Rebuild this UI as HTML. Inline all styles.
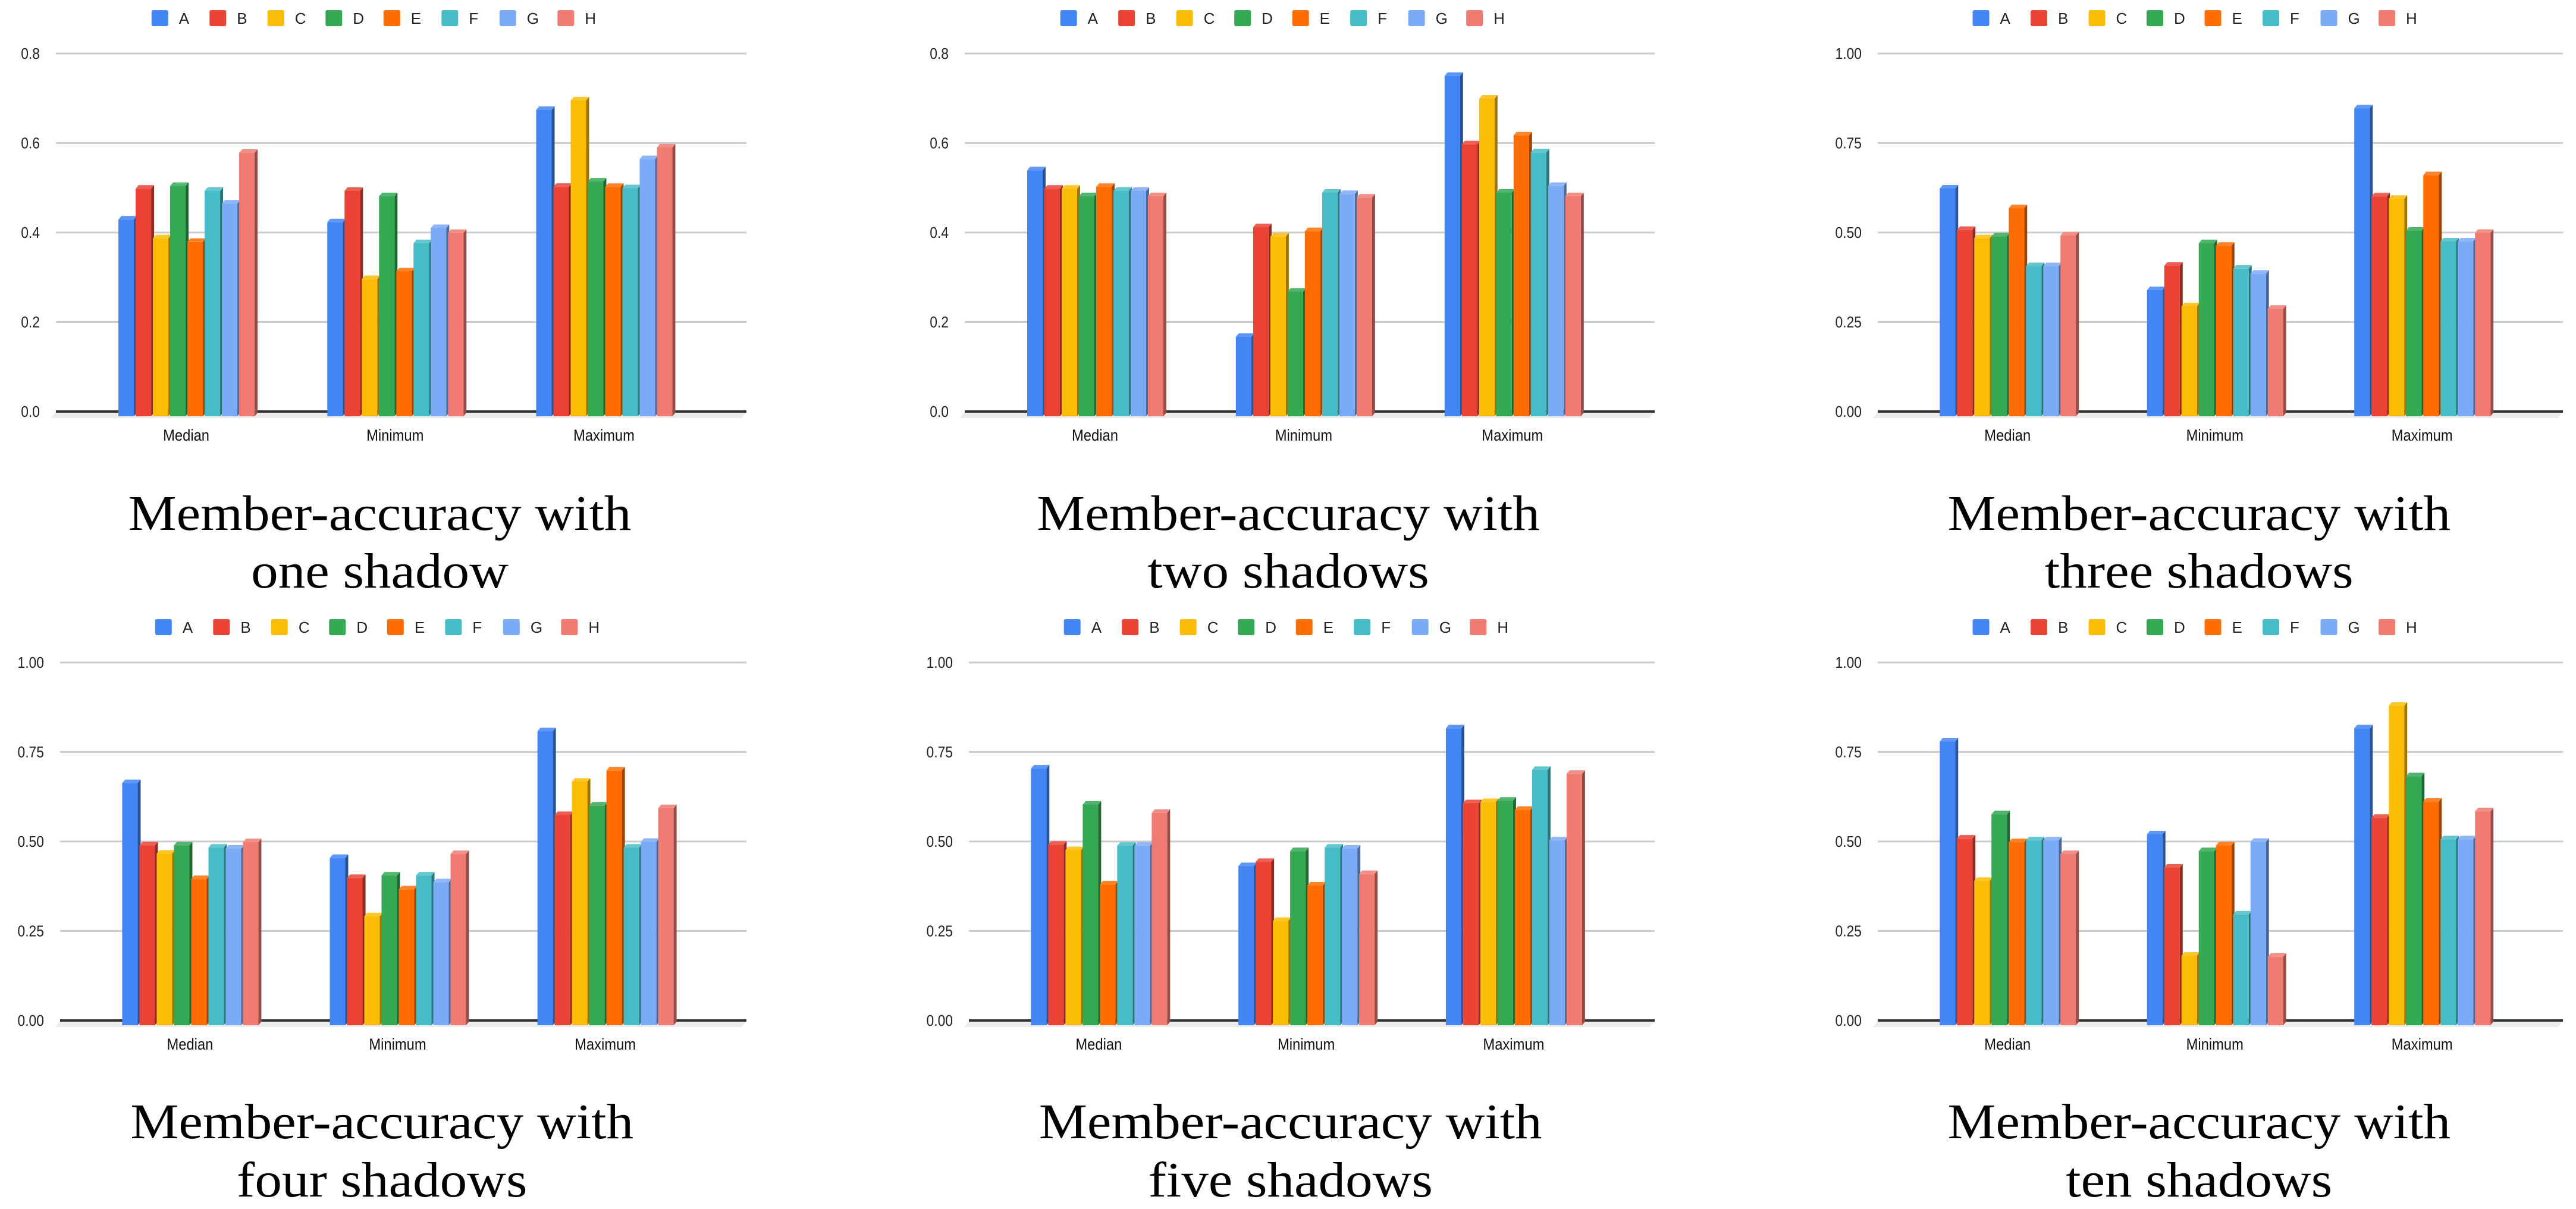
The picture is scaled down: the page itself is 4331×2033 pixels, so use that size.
<!DOCTYPE html>
<html><head><meta charset="utf-8">
<style>
html,body{margin:0;padding:0;background:#fff;}
svg{display:block;}
</style></head>
<body>
<svg id="root" xmlns="http://www.w3.org/2000/svg" width="4331" height="2033" viewBox="0 0 4331 2033"></svg>
<script>
const categories = ["Median","Minimum","Maximum"];
const seriesNames = ["A","B","C","D","E","F","G","H"];
const seriesColors = ["#4285F4","#EA4335","#FBBC04","#34A853","#FF6D01","#46BDC6","#7BAAF7","#F07B72"];
const tickValues08 = [0,0.2,0.4,0.6,0.8];
const tickLabels08 = ["0.0","0.2","0.4","0.6","0.8"];
const tickValues10 = [0,0.25,0.5,0.75,1.0];
const tickLabels10 = ["0.00","0.25","0.50","0.75","1.00"];

const oneMedian  = [0.429,0.498,0.387,0.504,0.379,0.493,0.465,0.578];
const oneMinimum = [0.423,0.493,0.296,0.481,0.313,0.376,0.410,0.399];
const oneMaximum = [0.674,0.502,0.695,0.514,0.502,0.499,0.564,0.590];

const twoMedian  = [0.539,0.498,0.498,0.481,0.502,0.493,0.493,0.481];
const twoMinimum = [0.167,0.412,0.391,0.268,0.403,0.489,0.486,0.478];
const twoMaximum = [0.750,0.597,0.699,0.489,0.617,0.579,0.504,0.481];

const threeMedian  = [0.623,0.507,0.484,0.489,0.568,0.406,0.406,0.492];
const threeMinimum = [0.339,0.407,0.294,0.470,0.463,0.399,0.385,0.287];
const threeMaximum = [0.847,0.601,0.594,0.505,0.660,0.475,0.475,0.499];

const fourMedian  = [0.663,0.489,0.466,0.489,0.395,0.483,0.480,0.498];
const fourMinimum = [0.454,0.398,0.291,0.405,0.366,0.405,0.386,0.465];
const fourMaximum = [0.808,0.574,0.667,0.600,0.698,0.483,0.499,0.593];

const fiveMedian  = [0.704,0.491,0.476,0.603,0.380,0.488,0.488,0.580];
const fiveMinimum = [0.431,0.443,0.278,0.473,0.377,0.483,0.480,0.409];
const fiveMaximum = [0.816,0.607,0.610,0.614,0.588,0.700,0.503,0.689];

const tenMedian  = [0.779,0.508,0.390,0.576,0.498,0.503,0.503,0.465];
const tenMinimum = [0.520,0.427,0.181,0.473,0.489,0.296,0.499,0.178];
const tenMaximum = [0.816,0.566,0.879,0.682,0.611,0.506,0.506,0.584];

const NS = "http://www.w3.org/2000/svg";
const root = document.getElementById("root");

function mk(tag, attrs, parent){
  const e = document.createElementNS(NS, tag);
  for (const k in attrs) e.setAttribute(k, attrs[k]);
  parent.appendChild(e);
  return e;
}
function shade(hex, f){
  const n = parseInt(hex.slice(1),16);
  let r=(n>>16)&255,g=(n>>8)&255,b=n&255;
  if (f<1){ r=Math.round(r*f); g=Math.round(g*f); b=Math.round(b*f); }
  else { const t=f-1; r=Math.round(r+(255-r)*t); g=Math.round(g+(255-g)*t); b=Math.round(b+(255-b)*t); }
  return "rgb("+r+","+g+","+b+")";
}

const panels = [
  {id:"one",   x0:94,   x1:1255, top:90,   zero:692,  max:0.8, tv:tickValues08, tl:tickLabels08, sub:"one shadow",    data:[oneMedian,oneMinimum,oneMaximum]},
  {id:"two",   x0:1622, x1:2782, top:90,   zero:692,  max:0.8, tv:tickValues08, tl:tickLabels08, sub:"two shadows",   data:[twoMedian,twoMinimum,twoMaximum]},
  {id:"three", x0:3157, x1:4309, top:90,   zero:692,  max:1.0, tv:tickValues10, tl:tickLabels10, sub:"three shadows", data:[threeMedian,threeMinimum,threeMaximum]},
  {id:"four",  x0:101,  x1:1255, top:1114, zero:1716, max:1.0, tv:tickValues10, tl:tickLabels10, sub:"four shadows",  data:[fourMedian,fourMinimum,fourMaximum]},
  {id:"five",  x0:1629, x1:2782, top:1114, zero:1716, max:1.0, tv:tickValues10, tl:tickLabels10, sub:"five shadows",  data:[fiveMedian,fiveMinimum,fiveMaximum]},
  {id:"ten",   x0:3157, x1:4309, top:1114, zero:1716, max:1.0, tv:tickValues10, tl:tickLabels10, sub:"ten shadows",   data:[tenMedian,tenMinimum,tenMaximum]}
];

panels.forEach(function(p){
  const W = p.x1 - p.x0;
  const rowOff = p.zero - 692;
  const g = mk("g", {}, root);
  
  
  const yScale = function(v){ return p.zero - (v / p.max) * (p.zero - p.top); };
  const groupX = function(i){ return p.x0 + W * (0.0905 + 0.3025 * i); };
  const barPitch = 29, barW = 26, dx = 5, dy = 6;

  // legend
  const lg = mk("g", {}, g);
  
  
  const lx0 = p.x0 + W * 0.1385;
  seriesNames.forEach(function(s, k){
    const it = mk("g", {}, lg);
    
    
    const x = lx0 + k * 97.5;
    mk("rect", {x:x, y:17+rowOff, width:28, height:27, rx:3, fill:seriesColors[k]}, it);
    const t = mk("text", {x:x+46, y:40+rowOff, "font-family":"Liberation Sans, sans-serif", "font-size":26, fill:"#222"}, it);
    t.textContent = s;
  });

  // gridlines + y labels
  p.tv.forEach(function(v, k){
    const y = yScale(v);
    if (v !== 0) {
      const gl = mk("line", {x1:p.x0, x2:p.x1, y1:y, y2:y, stroke:"#cccccc", "stroke-width":3}, g);
      
      
    }
    const t = mk("text", {x:p.x0-27, y:y+9, "text-anchor":"end", "font-family":"Liberation Sans, sans-serif", "font-size":26, fill:"#222", transform:"translate("+(p.x0-27)+",0) scale(0.88,1) translate("+(-(p.x0-27))+",0)"}, g);
    
    
    t.textContent = p.tl[k];
  });

  // floor
  const fl = mk("polygon", {points:(p.x0-8)+","+(p.zero+11)+" "+p.x0+","+p.zero+" "+p.x1+","+p.zero+" "+(p.x1-8)+","+(p.zero+11), fill:"#ececec"}, g);
  
  
  const zl = mk("line", {x1:p.x0, x2:p.x1, y1:p.zero, y2:p.zero, stroke:"#333333", "stroke-width":4}, g);
  
  

  // bars
  categories.forEach(function(c, ci){
    const gx = groupX(ci);
    p.data[ci].forEach(function(v, si){
      const x = gx + si * barPitch;
      const yt = yScale(v);
      const yb = p.zero + 8;
      const col = seriesColors[si];
      const bg = mk("g", {}, g);
      
      
      mk("polygon", {points:(x+barW)+","+yt+" "+(x+barW+dx)+","+(yt-dy)+" "+(x+barW+dx)+","+(yb-dy)+" "+(x+barW)+","+yb, fill:shade(col,0.62)}, bg);
      mk("polygon", {points:x+","+yt+" "+(x+dx)+","+(yt-dy)+" "+(x+barW+dx)+","+(yt-dy)+" "+(x+barW)+","+yt, fill:shade(col,1.15)}, bg);
      mk("rect", {x:x, y:yt, width:barW, height:yb-yt, fill:col}, bg);
    });
    const cx = gx + 8 * barPitch / 2 - 2;
    const t = mk("text", {x:cx, y:p.zero+49, "text-anchor":"middle", "font-family":"Liberation Sans, sans-serif", "font-size":27, fill:"#111", transform:"translate("+cx+",0) scale(0.88,1) translate("+(-cx)+",0)"}, g);
    
    
    t.textContent = c;
  });

  // title
  const tcx = p.x0 + W * 0.469;
  const tg = mk("g", {transform:"translate("+tcx+",0) scale(1.085,1) translate("+(-tcx)+",0)"}, g);
  
  
  const t1 = mk("text", {x:tcx, y:891+rowOff+ (p.zero>1000? -1:0), "text-anchor":"middle", "font-family":"Liberation Serif, serif", "font-size":84, fill:"#000"}, tg);
  t1.textContent = "Member-accuracy with";
  const t2 = mk("text", {x:tcx, y:990+rowOff-2, "text-anchor":"middle", "font-family":"Liberation Serif, serif", "font-size":84, fill:"#000"}, tg);
  t2.textContent = p.sub;
});
</script>
</body></html>
